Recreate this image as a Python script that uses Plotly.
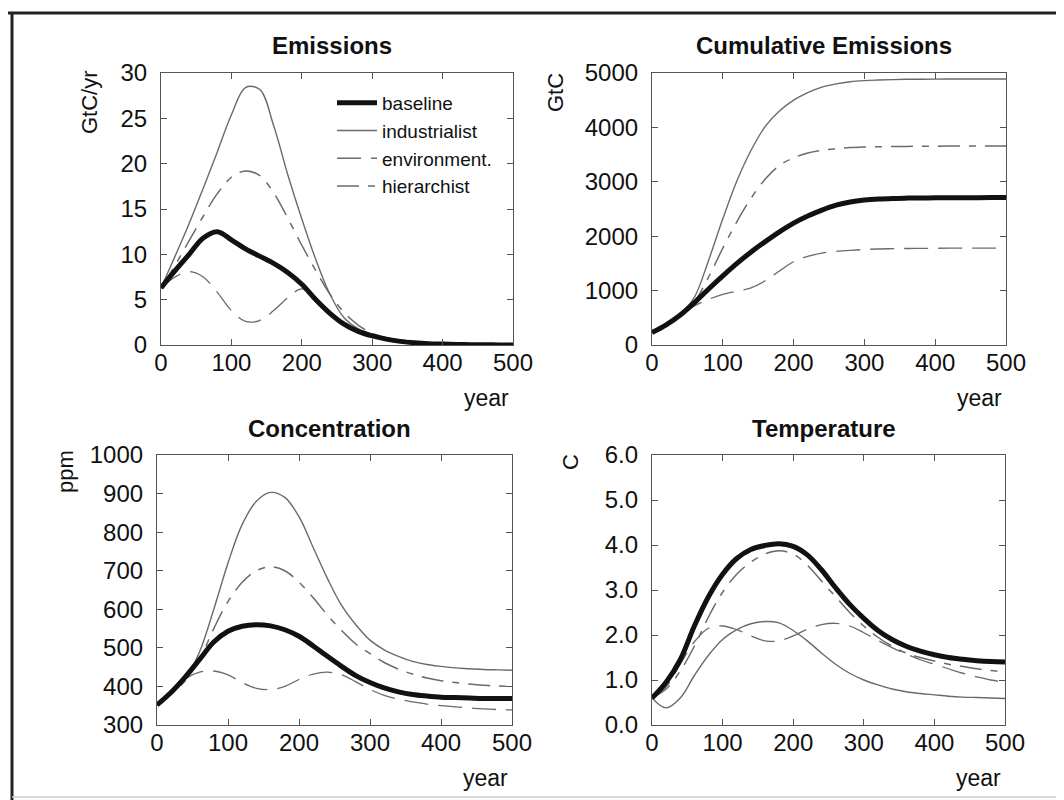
import plotly.graph_objects as go

# ---------------- data ----------------
years = list(range(0, 501, 20))

scenarios = ["baseline", "industrialist", "environment.", "hierarchist"]

# Emissions (GtC/yr)
emis_baseline = [6.3, 8.2, 10.0, 11.8, 12.5, 11.6, 10.6, 9.8, 9.0, 8.0, 6.7, 5.0, 3.5,
                 2.3, 1.5, 1.0, 0.65, 0.4, 0.25, 0.15, 0.1, 0.06, 0.04, 0.02, 0.01, 0.0]
emis_industrialist = [6.3, 9.8, 13.4, 17.3, 21.3, 25.4, 28.4, 28.2, 24.2, 18.8, 13.9, 9.4, 5.6,
                      3.0, 1.8, 1.2, 0.8, 0.5, 0.35, 0.2, 0.12, 0.08, 0.05, 0.03, 0.02, 0.01]
emis_environment = [6.3, 7.5, 8.1, 7.5, 5.8, 3.8, 2.6, 2.7, 3.8, 5.2, 6.2, 5.0, 3.5,
                    2.3, 1.5, 1.0, 0.65, 0.4, 0.25, 0.15, 0.1, 0.06, 0.04, 0.02, 0.01, 0.0]
emis_hierarchist = [6.3, 8.8, 11.5, 14.2, 16.7, 18.5, 19.2, 18.7, 16.8, 14.0, 11.0, 8.2, 5.6,
                    3.6, 2.2, 1.3, 0.8, 0.5, 0.3, 0.18, 0.1, 0.06, 0.04, 0.02, 0.01, 0.0]

# Cumulative emissions (GtC)
cum_baseline = [230, 370, 550, 780, 1030, 1270, 1500, 1710, 1900, 2080, 2240, 2370, 2480,
                2570, 2630, 2665, 2685, 2695, 2700, 2703, 2705, 2707, 2708, 2709, 2710, 2710]
cum_industrialist = [230, 370, 560, 880, 1560, 2320, 3020, 3580, 4020, 4300, 4500, 4640, 4740,
                     4800, 4840, 4860, 4870, 4878, 4884, 4886, 4888, 4889, 4890, 4890, 4890, 4890]
cum_environment = [230, 370, 540, 720, 840, 930, 990, 1050, 1180, 1360, 1530, 1630, 1690,
                   1720, 1740, 1755, 1765, 1770, 1774, 1776, 1778, 1779, 1780, 1780, 1780, 1780]
cum_hierarchist = [230, 370, 550, 800, 1250, 1780, 2270, 2700, 3050, 3300, 3440, 3530, 3580,
                   3610, 3630, 3640, 3645, 3648, 3651, 3653, 3655, 3657, 3658, 3659, 3660, 3660]

# Concentration (ppm)
conc_baseline = [352, 385, 425, 470, 515, 543, 556, 560, 557, 547, 530, 505, 478,
                 452, 428, 410, 396, 386, 379, 375, 372, 371, 370, 369, 369, 369]
conc_industrialist = [352, 380, 420, 490, 600, 720, 820, 880, 903, 890, 840, 760, 680,
                      610, 560, 520, 495, 478, 465, 457, 452, 448, 446, 444, 443, 442]
conc_environment = [352, 385, 420, 437, 440, 430, 410, 395, 392, 400, 418, 432, 437,
                    430, 412, 392, 377, 367, 360, 354, 350, 347, 344, 342, 340, 339]
conc_hierarchist = [352, 380, 415, 470, 550, 620, 670, 700, 710, 700, 670, 630, 585,
                    545, 510, 485, 462, 445, 432, 422, 415, 410, 406, 403, 401, 400]

# Temperature (C)
temp_baseline = [0.6, 0.95, 1.45, 2.2, 2.85, 3.35, 3.7, 3.9, 3.99, 4.03, 3.97, 3.78, 3.45,
                 3.05, 2.68, 2.37, 2.1, 1.9, 1.75, 1.64, 1.56, 1.5, 1.46, 1.43, 1.41, 1.4]
temp_industrialist = [0.6, 0.38, 0.6, 1.1, 1.55, 1.9, 2.12, 2.25, 2.3, 2.27, 2.1, 1.87, 1.6,
                      1.35, 1.15, 1.0, 0.89, 0.8, 0.74, 0.7, 0.67, 0.64, 0.62, 0.61, 0.6, 0.59]
temp_environment = [0.6, 0.85, 1.35, 1.85, 2.15, 2.2, 2.12, 1.98, 1.87, 1.87, 1.98, 2.13, 2.23,
                    2.26, 2.2, 2.05, 1.88, 1.72, 1.58, 1.45, 1.35, 1.25, 1.15, 1.07, 1.0, 0.96]
temp_hierarchist = [0.6, 0.8, 1.2, 1.75, 2.4, 2.95, 3.35, 3.62, 3.8, 3.87, 3.8, 3.55, 3.2,
                    2.85, 2.5, 2.2, 1.95, 1.75, 1.6, 1.5, 1.42, 1.35, 1.3, 1.25, 1.21, 1.18]

panel_titles = ["Emissions", "Cumulative Emissions", "Concentration", "Temperature"]
y_titles = ["GtC/yr", "GtC", "ppm", "C"]
x_title = "year"
x_ticks = [0, 100, 200, 300, 400, 500]

panels = [
    [emis_baseline, emis_industrialist, emis_environment, emis_hierarchist],
    [cum_baseline, cum_industrialist, cum_environment, cum_hierarchist],
    [conc_baseline, conc_industrialist, conc_environment, conc_hierarchist],
    [temp_baseline, temp_industrialist, temp_environment, temp_hierarchist],
]

# ---------------- styles / layout ----------------
W, H = 1064, 800
OFF = 8  # page body margin in the browser


def px(p):
    return (p - OFF) / W


def py(p):
    return 1 - (p - OFF) / H


FONT = "Liberation Sans, Arial, Helvetica, sans-serif"
styles = {
    "baseline": dict(color="#111111", width=5, dash="solid"),
    "industrialist": dict(color="#6a6a6a", width=1.4, dash="solid"),
    "environment.": dict(color="#6a6a6a", width=1.3, dash="24px,10px"),
    "hierarchist": dict(color="#6a6a6a", width=1.5, dash="22px,9px,7px,9px"),
}

# plot-area boxes in page pixels (left, right, top, bottom)
boxes = [(161, 513, 73, 345), (652, 1006, 73, 345),
         (157, 512, 455, 725), (652, 1005, 455, 725)]
y_ranges = [[0, 30], [0, 5000], [300, 1000], [0, 6]]
y_dticks = [5, 1000, 100, 1]
y_formats = ["", "", "", ".1f"]

fig = go.Figure()
for p, series in enumerate(panels):
    ax = "" if p == 0 else str(p + 1)
    order = [1, 2, 3, 0]  # baseline drawn last (on top)
    for k in order:
        name = scenarios[k]
        st = styles[name]
        fig.add_trace(go.Scatter(
            x=years, y=series[k], mode="lines", name=name,
            line=dict(color=st["color"], width=st["width"], dash=st["dash"],
                      shape="spline", smoothing=1.0),
            xaxis="x" + ax, yaxis="y" + ax,
            showlegend=(p == 0), legendrank=k + 1,
        ))

axis_common = dict(showline=True, linecolor="#555555", linewidth=1.2, mirror="ticks",
                   ticks="inside", ticklen=6, tickcolor="#555555", tickwidth=1,
                   showgrid=False, zeroline=False, automargin=False,
                   tickfont=dict(family=FONT, size=24, color="#111111"))

layout = dict(width=W, height=H, autosize=False, plot_bgcolor="white", paper_bgcolor="white",
              margin=dict(l=0, r=0, t=0, b=0, pad=0, autoexpand=False),
              font=dict(family=FONT, color="#111111"))

annotations = []
for p, (l, r, t, b) in enumerate(boxes):
    ax = "" if p == 0 else str(p + 1)
    layout["xaxis" + ax] = dict(domain=[px(l), px(r)], anchor="y" + ax, range=[0, 500],
                                tickvals=x_ticks, ticklabelstandoff=-4, **axis_common)
    layout["yaxis" + ax] = dict(domain=[py(b), py(t)], anchor="x" + ax,
                                range=y_ranges[p], dtick=y_dticks[p],
                                tickformat=y_formats[p], ticklabelstandoff=8, **axis_common)
    annotations.append(dict(text="<b>" + panel_titles[p] + "</b>", xref="paper", yref="paper",
                            x=px((l + r) / 2 - 5), y=py(t - 27),
                            showarrow=False, font=dict(family=FONT, size=24, color="#111111"),
                            xanchor="center", yanchor="middle"))
    annotations.append(dict(text=x_title, xref="paper", yref="paper",
                            x=px(r - 2), y=py(b + 53), showarrow=False,
                            font=dict(family=FONT, size=23, color="#111111"),
                            xanchor="right", yanchor="middle"))

ytitle_pos = [(90, 102), (556, 93), (66, 472), (570, 462)]
for p, (xp, yp) in enumerate(ytitle_pos):
    annotations.append(dict(text=y_titles[p], xref="paper", yref="paper",
                            x=px(xp), y=py(yp), showarrow=False, textangle=-90,
                            font=dict(family=FONT, size=22, color="#111111"),
                            xanchor="center", yanchor="middle"))

layout["annotations"] = annotations
layout["legend"] = dict(x=px(332), y=py(84), xanchor="left", yanchor="top",
                        bgcolor="rgba(0,0,0,0)", borderwidth=0,
                        font=dict(family=FONT, size=19, color="#111111"),
                        tracegroupgap=0, itemwidth=40, traceorder="normal")
layout["shapes"] = [
    dict(type="line", xref="paper", yref="paper", x0=px(5), x1=1, y0=py(13), y1=py(13),
         line=dict(color="#222222", width=3)),
    dict(type="line", xref="paper", yref="paper", x0=px(12), x1=px(12), y0=0, y1=py(13),
         line=dict(color="#222222", width=3)),
    dict(type="line", xref="paper", yref="paper", x0=px(12), x1=1, y0=py(797), y1=py(797),
         line=dict(color="#cccccc", width=1.5)),
]

fig.update_layout(**layout)
fig.write_html("out.html")
